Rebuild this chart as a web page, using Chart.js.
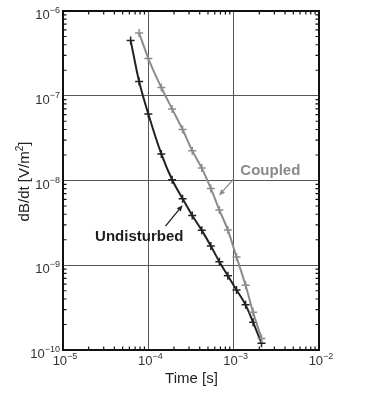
<!DOCTYPE html>
<html>
<head>
<meta charset="utf-8">
<script src="https://cdn.jsdelivr.net/npm/chart.js@4/dist/chart.umd.min.js"></script>
<style>
  html, body { margin: 0; padding: 0; background: #fff; }
  #wrap { width: 380px; height: 408px; }
</style>
</head>
<body>
<div id="wrap"><canvas id="c" width="380" height="408"></canvas></div>
<script>
// ---- data ----
const undisturbedTime = [6.2e-5, 7.8e-5, 1.0e-4, 1.42e-4, 1.9e-4, 2.52e-4, 3.27e-4, 4.23e-4, 5.4e-4, 6.8e-4, 8.55e-4, 1.08e-3, 1.38e-3, 1.69e-3, 2.12e-3];
const undisturbedValues = [4.5e-7, 1.47e-7, 6.1e-8, 2.06e-8, 1.02e-8, 6.1e-9, 3.87e-9, 2.58e-9, 1.69e-9, 1.1e-9, 7.5e-10, 5.1e-10, 3.41e-10, 2.12e-10, 1.2e-10];
const coupledTime = [7.8e-5, 1.0e-4, 1.42e-4, 1.9e-4, 2.52e-4, 3.27e-4, 4.23e-4, 5.4e-4, 6.8e-4, 8.55e-4, 1.08e-3, 1.38e-3, 1.69e-3, 2.12e-3];
const coupledValues = [5.5e-7, 2.75e-7, 1.25e-7, 7.0e-8, 4.0e-8, 2.25e-8, 1.4e-8, 8.05e-9, 4.48e-9, 2.6e-9, 1.25e-9, 5.8e-10, 2.78e-10, 1.37e-10];
const xTickExponents = [-5, -4, -3, -2];
const yTickExponents = [-10, -9, -8, -7, -6];
const xTitle = 'Time [s]';
const yTitle = 'dB/dt [V/m';
const yTitleSup = '2';
const yTitleEnd = ']';
const seriesNames = ['Undisturbed', 'Coupled'];
// annotation anchors in data coordinates: [labelX, labelY, arrowFromX, arrowFromY, arrowToX, arrowToY]
const undisturbedNote = [7.83e-5, 2.19e-9, 1.59e-4, 2.9e-9, 2.52e-4, 5.1e-9];
const coupledNote = [2.69e-3, 1.31e-8, 9.9e-4, 1.03e-8, 6.75e-4, 6.67e-9];

const FONT = '"Liberation Sans", Arial, sans-serif';

function toXY(xs, ys) { return xs.map((x, i) => ({ x: x, y: ys[i] })); }

function drawArrow(ctx, x1, y1, x2, y2, color) {
  ctx.save();
  ctx.strokeStyle = color; ctx.fillStyle = color; ctx.lineWidth = 1.3;
  const a = Math.atan2(y2 - y1, x2 - x1);
  const hl = 6, hw = 2.6;
  const bx = x2 - hl * Math.cos(a), by = y2 - hl * Math.sin(a);
  ctx.beginPath(); ctx.moveTo(x1, y1); ctx.lineTo(bx, by); ctx.stroke();
  ctx.beginPath();
  ctx.moveTo(x2, y2);
  ctx.lineTo(bx + hw * Math.sin(a), by - hw * Math.cos(a));
  ctx.lineTo(bx - hw * Math.sin(a), by + hw * Math.cos(a));
  ctx.closePath(); ctx.fill();
  ctx.restore();
}

const decor = {
  id: 'decor',
  afterDraw(chart) {
    const ctx = chart.ctx;
    const a = chart.chartArea;
    const xs = chart.scales.x, ys = chart.scales.y;
    ctx.save();
    // minor ticks
    ctx.strokeStyle = '#111'; ctx.lineWidth = 1.2;
    for (let e = -5; e < -2; e++) {
      for (let m = 2; m <= 9; m++) {
        const px = xs.getPixelForValue(m * Math.pow(10, e));
        ctx.beginPath();
        ctx.moveTo(px, a.bottom); ctx.lineTo(px, a.bottom - 3.5);
        ctx.moveTo(px, a.top); ctx.lineTo(px, a.top + 3.5);
        ctx.stroke();
      }
    }
    for (let e = -10; e < -6; e++) {
      for (let m = 2; m <= 9; m++) {
        const py = ys.getPixelForValue(m * Math.pow(10, e));
        ctx.beginPath();
        ctx.moveTo(a.left, py); ctx.lineTo(a.left + 3.5, py);
        ctx.moveTo(a.right, py); ctx.lineTo(a.right - 3.5, py);
        ctx.stroke();
      }
    }
    // frame
    ctx.strokeStyle = '#111'; ctx.lineWidth = 2;
    ctx.strokeRect(a.left, a.top, a.right - a.left, a.bottom - a.top);

    // tick labels
    const big = '13px ' + FONT, small = '9px ' + FONT;
    ctx.fillStyle = '#333';
    ctx.textBaseline = 'alphabetic';
    xTickExponents.forEach(e => {
      const px = xs.getPixelForValue(Math.pow(10, e));
      ctx.font = big; const w1 = ctx.measureText('10').width;
      ctx.font = small; const w2 = ctx.measureText('\u2212' + Math.abs(e)).width;
      const x0 = px - (w1 + w2) / 2 + 2;
      ctx.textAlign = 'left';
      ctx.font = big; ctx.fillText('10', x0, a.bottom + 15);
      ctx.font = small; ctx.fillText('\u2212' + Math.abs(e), x0 + w1, a.bottom + 9);
    });
    yTickExponents.forEach(e => {
      const py = ys.getPixelForValue(Math.pow(10, e));
      ctx.font = big; const w1 = ctx.measureText('10').width;
      ctx.font = small; const w2 = ctx.measureText('\u2212' + Math.abs(e)).width;
      const right = a.left - 3;
      ctx.textAlign = 'left';
      ctx.font = big; ctx.fillText('10', right - w2 - w1, py + 8);
      ctx.font = small; ctx.fillText('\u2212' + Math.abs(e), right - w2, py + 2);
    });

    // axis titles
    ctx.fillStyle = '#222';
    ctx.font = '15px ' + FONT;
    ctx.textAlign = 'center';
    ctx.fillText(xTitle, (a.left + a.right) / 2 + 0.5, a.bottom + 33);
    ctx.save();
    ctx.translate(29, (a.top + a.bottom) / 2 + 1);
    ctx.rotate(-Math.PI / 2);
    ctx.font = '15px ' + FONT; const t1 = ctx.measureText(yTitle).width;
    const t3 = ctx.measureText(yTitleEnd).width;
    ctx.font = '10px ' + FONT; const t2 = ctx.measureText(yTitleSup).width;
    const tx = -(t1 + t2 + t3) / 2;
    ctx.textAlign = 'left';
    ctx.font = '15px ' + FONT; ctx.fillText(yTitle, tx, 0);
    ctx.font = '10px ' + FONT; ctx.fillText(yTitleSup, tx + t1, -6);
    ctx.font = '15px ' + FONT; ctx.fillText(yTitleEnd, tx + t1 + t2, 0);
    ctx.restore();

    // annotations
    const notes = [[undisturbedNote, seriesNames[0], '#1e1e1e'], [coupledNote, seriesNames[1], '#8a8a8a']];
    notes.forEach(([n, label, col]) => {
      ctx.font = 'bold 15px ' + FONT;
      ctx.fillStyle = col; ctx.textAlign = 'center'; ctx.textBaseline = 'middle';
      ctx.fillText(label, xs.getPixelForValue(n[0]), ys.getPixelForValue(n[1]));
      drawArrow(ctx, xs.getPixelForValue(n[2]), ys.getPixelForValue(n[3]),
                xs.getPixelForValue(n[4]), ys.getPixelForValue(n[5]), col);
    });
    ctx.restore();
  }
};

new Chart(document.getElementById('c'), {
  type: 'line',
  data: {
    datasets: [
      {
        label: seriesNames[1],
        data: toXY(coupledTime, coupledValues),
        borderColor: '#8c8c8c', backgroundColor: '#8c8c8c',
        borderWidth: 2, pointStyle: 'cross', pointRadius: 4, pointBorderWidth: 1.5,
        cubicInterpolationMode: 'monotone', fill: false
      },
      {
        label: seriesNames[0],
        data: toXY(undisturbedTime, undisturbedValues),
        borderColor: '#222', backgroundColor: '#222',
        borderWidth: 2, pointStyle: 'cross', pointRadius: 4, pointBorderWidth: 1.5,
        cubicInterpolationMode: 'monotone', fill: false
      }
    ]
  },
  options: {
    responsive: false,
    animation: false,
    layout: { padding: { left: 63, right: 61, top: 11, bottom: 58 } },
    plugins: { legend: { display: false }, tooltip: { enabled: false } },
    scales: {
      x: {
        type: 'logarithmic', min: 1e-5, max: 1e-2,
        afterBuildTicks: s => { s.ticks = xTickExponents.map(e => ({ value: Math.pow(10, e) })); },
        ticks: { display: false },
        grid: { color: '#555', lineWidth: 1, drawTicks: false, tickLength: 0 },
        border: { display: false },
        title: { display: false }
      },
      y: {
        type: 'logarithmic', min: 1e-10, max: 1e-6,
        afterBuildTicks: s => { s.ticks = yTickExponents.map(e => ({ value: Math.pow(10, e) })); },
        ticks: { display: false },
        grid: { color: '#555', lineWidth: 1, drawTicks: false, tickLength: 0 },
        border: { display: false },
        title: { display: false }
      }
    }
  },
  plugins: [decor]
});
</script>
</body>
</html>
